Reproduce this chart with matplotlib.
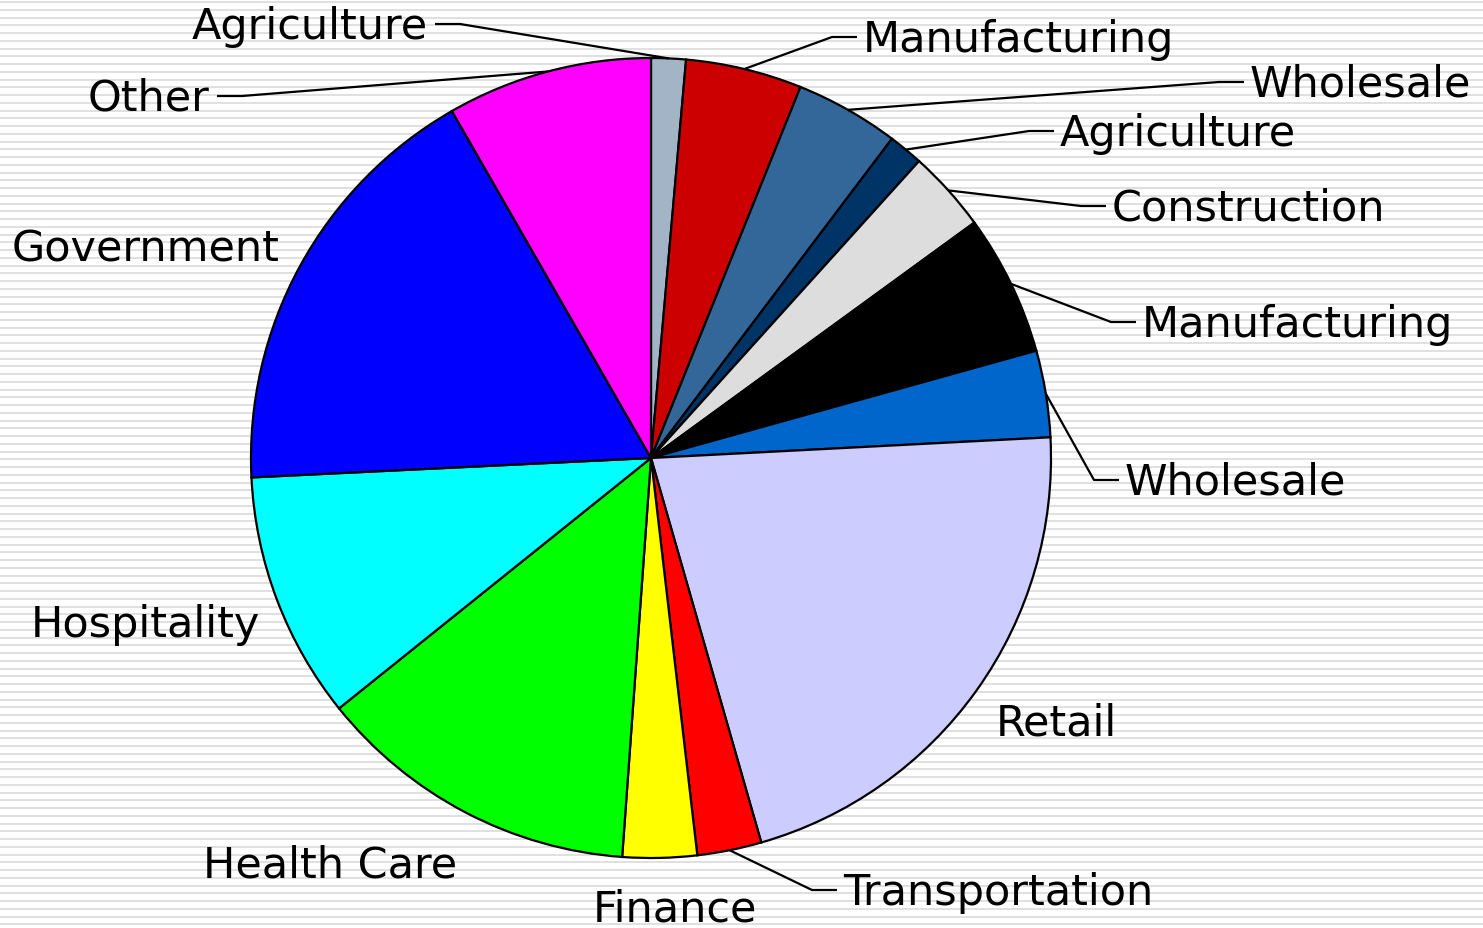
import numpy as np
import matplotlib.pyplot as plt

# slice data (percent), clockwise from the top
sectors = ['Agriculture', 'Manufacturing', 'Wholesale', 'Agriculture', 'Construction',
           'Manufacturing', 'Wholesale', 'Retail', 'Transportation', 'Finance',
           'Health Care', 'Hospitality', 'Government', 'Other']
shares = [1.4, 4.7, 4.2, 1.4, 3.3, 5.7, 3.5, 21.4, 2.6, 3.0, 13.1, 10.0, 17.5, 8.3]
colors = ['#A3B4C6', '#CC0000', '#336699', '#003366', '#DDDDDD', '#000000', '#0066CC',
          '#CCCCFF', '#FF0000', '#FFFF00', '#00FF00', '#00FFFF', '#0000FF', '#FF00FF']

# label layout in pixels: (x, y, ha, leader?)  x = text anchor edge
W, H = 1483, 929
CX, CY, R = 651, 459, 400
label_pos = [
    (428, 25, 'right', True),
    (863, 38, 'left', True),
    (1250, 83, 'left', True),
    (1060, 132, 'left', True),
    (1112, 207, 'left', True),
    (1142, 323, 'left', True),
    (1125, 481, 'left', True),
    (1056, 722, 'center', False),
    (843, 891, 'left', True),
    (675, 908, 'center', False),
    (330, 864, 'center', False),
    (145, 623, 'center', False),
    (146, 248, 'center', False),
    (210, 97, 'right', True),
]


def to_data(px, py):
    return (px - CX) / R, (CY - py) / R


fig = plt.figure(figsize=(W / 100, H / 100), dpi=100)
fig.patch.set_facecolor('white')

# striped background
bg = fig.add_axes([0, 0, 1, 1])
bg.set_xlim(0, W)
bg.set_ylim(H, 0)
bg.axis('off')
for y in np.arange(2, H, 7.75):
    bg.axhspan(y, y + 2.2, color='#E0E0E0', lw=0)

ax = fig.add_axes([0, 0, 1, 1])
ax.patch.set_alpha(0)
ax.axis('off')
wedges, _ = ax.pie(shares, colors=colors, startangle=90, counterclock=False,
                   wedgeprops=dict(edgecolor='black', linewidth=1.6))
ax.set_xlim(-CX / R, (W - CX) / R)
ax.set_ylim(-(H - CY) / R, CY / R)
ax.set_aspect('equal')

for w, name, (px, py, ha, leader) in zip(wedges, sectors, label_pos):
    tx, ty = to_data(px, py + 2)
    ax.text(tx, ty, name, ha=ha, va='center', fontsize=31, color='black',
            family='DejaVu Sans')
    if leader:
        mid = np.deg2rad((w.theta1 + w.theta2) / 2)
        ax_, ay_ = np.cos(mid), np.sin(mid)
        if ha == 'left':
            start, elbow = to_data(px - 6, py), to_data(px - 31, py)
        else:
            start, elbow = to_data(px + 7, py), to_data(px + 32, py)
        ax.plot([start[0], elbow[0], ax_], [start[1], elbow[1], ay_],
                color='black', lw=1.6, solid_capstyle='butt')

fig.savefig('out.png', dpi=100)
